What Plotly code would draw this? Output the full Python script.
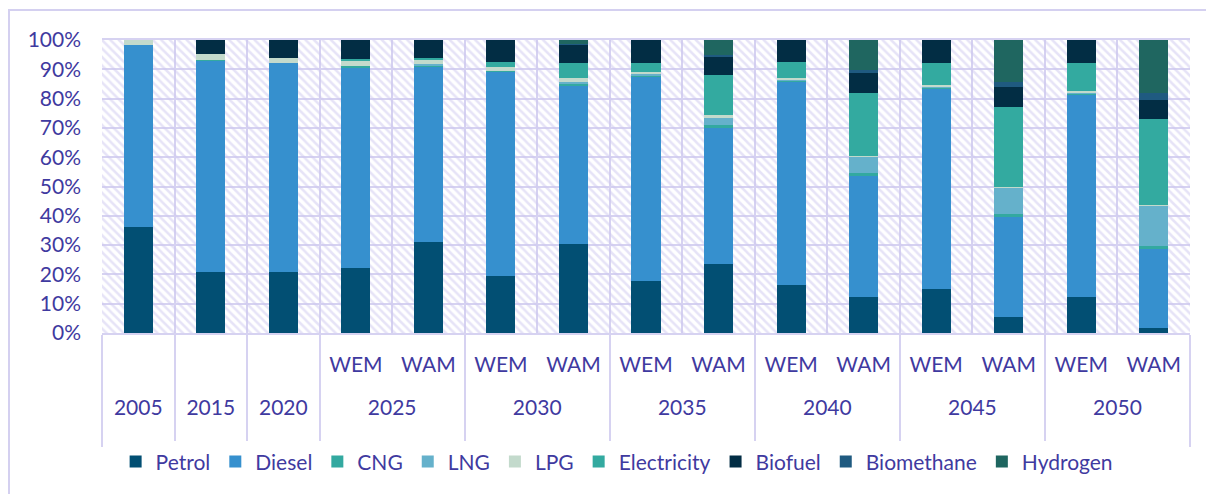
import plotly.graph_objects as go

years = ["2005", "2015", "2020", "2025", "2025", "2030", "2030", "2035", "2035",
         "2040", "2040", "2045", "2045", "2050", "2050"]
scenarios = ["", " ", "  ", "WEM", "WAM", "WEM", "WAM", "WEM", "WAM",
             "WEM", "WAM", "WEM", "WAM", "WEM", "WAM"]

petrol      = [36.1, 20.8, 20.9, 22.3, 31.2, 19.6, 30.4, 17.8, 23.7, 16.4, 12.2, 14.9, 5.6, 12.4, 1.8]
diesel      = [62.3, 72.1, 71.1, 68.2, 59.7, 69.6, 54.2, 69.7, 46.4, 69.4, 41.5, 68.6, 34.1, 69.1, 26.9]
cng         = [0.0, 0.4, 0.0, 0.6, 0.5, 0.3, 0.5, 0.5, 0.9, 0.4, 0.8, 0.3, 0.9, 0.4, 1.0]
lng         = [0.0, 0.0, 0.0, 0.0, 0.3, 0.0, 0.4, 0.4, 2.3, 0.3, 5.6, 0.3, 9.1, 0.3, 13.7]
lpg         = [1.6, 1.8, 1.7, 2.0, 1.5, 1.2, 1.7, 0.8, 1.1, 0.6, 0.4, 0.6, 0.3, 0.5, 0.3]
electricity = [0.0, 0.0, 0.0, 0.3, 0.5, 1.8, 4.8, 3.1, 13.7, 5.3, 21.3, 7.6, 27.2, 9.6, 29.3]
biofuel     = [0.0, 4.9, 6.3, 6.6, 6.3, 7.5, 6.5, 7.7, 6.2, 7.6, 7.0, 7.7, 6.7, 7.7, 6.5]
biomethane  = [0.0, 0.0, 0.0, 0.0, 0.0, 0.0, 0.3, 0.0, 0.6, 0.0, 1.1, 0.0, 1.8, 0.0, 2.3]
hydrogen    = [0.0, 0.0, 0.0, 0.0, 0.0, 0.0, 1.2, 0.0, 5.1, 0.0, 10.1, 0.0, 14.3, 0.0, 18.2]

series_names = ["Petrol", "Diesel", "CNG", "LNG", "LPG", "Electricity", "Biofuel", "Biomethane", "Hydrogen"]
series_values = [petrol, diesel, cng, lng, lpg, electricity, biofuel, biomethane, hydrogen]
series_colors = ["#024F73", "#3690CE", "#33A9A0", "#65B1CB", "#C3DACC",
                 "#33AAA0", "#022D44", "#1F5A80", "#1F6660"]

y_ticks = [0, 10, 20, 30, 40, 50, 60, 70, 80, 90, 100]
y_labels = [f"{v}%" for v in y_ticks]

TXT = "#3F3AA0"
GRID = "#D6D2F1"
FONT = "Lato"
FS = 21

# outer (year) labels pushed one line lower, with room below, as in the reference
year_labels = ["<br>" + y + "<br> " for y in years]

fig = go.Figure()

# hatched plot background (decoration) on the main hidden axes
fig.add_trace(go.Scatter(
    x=[0, 1, 1, 0, 0], y=[0, 0, 1, 1, 0], mode="lines", fill="toself",
    fillcolor="rgba(0,0,0,0)", line=dict(width=0),
    fillpattern=dict(shape="\\", fgcolor="#CEC8EF", size=6, solidity=0.42),
    showlegend=False, hoverinfo="skip", xaxis="x", yaxis="y"))

for name, vals, col in zip(series_names, series_values, series_colors):
    fig.add_trace(go.Bar(
        x=[year_labels, scenarios], y=vals, name=name,
        marker=dict(color=col, line=dict(width=0)),
        xaxis="x2", yaxis="y2"))

W, H = 1206, 486
L, R, T, B = 94, 24, 32, 161
fig.update_layout(
    width=W, height=H,
    margin=dict(l=L, r=R, t=T, b=B),
    paper_bgcolor="white", plot_bgcolor="white",
    barmode="stack", bargap=0.6,
    font=dict(family=FONT, size=FS, color=TXT),
    xaxis=dict(visible=False, range=[0, 1], fixedrange=True),
    yaxis=dict(visible=False, range=[0, 1], fixedrange=True),
    xaxis2=dict(overlaying="x", anchor="y2", side="bottom", type="multicategory",
                tickson="boundaries", showgrid=True, gridcolor=GRID, gridwidth=2,
                showline=True, linecolor=GRID, linewidth=2, ticks="",
                showdividers=True, dividercolor=GRID, dividerwidth=2,
                ticklabelstandoff=12,
                tickfont=dict(size=FS, color=TXT, family=FONT), mirror=True),
    yaxis2=dict(overlaying="y", anchor="x2", side="left", range=[0, 100],
                tickmode="array", tickvals=y_ticks, ticktext=y_labels,
                showgrid=True, gridcolor=GRID,
                gridwidth=2, zeroline=False, showline=False, ticks="",
                ticklabelstandoff=20,
                tickfont=dict(size=FS, color=TXT, family=FONT)),
    legend=dict(orientation="h", x=0.473, xanchor="center", y=-0.37, yanchor="top",
                traceorder="normal", font=dict(size=FS, color=TXT, family=FONT),
                itemwidth=30),
    shapes=[dict(type="rect", xref="paper", yref="paper",
                 x0=(1 - L) / 1088, x1=1.06, y0=-0.8, y1=(H - B - 2) / 293,
                 line=dict(color="#D4D0F0", width=2), layer="below")],
)

fig.write_html("out.html")
